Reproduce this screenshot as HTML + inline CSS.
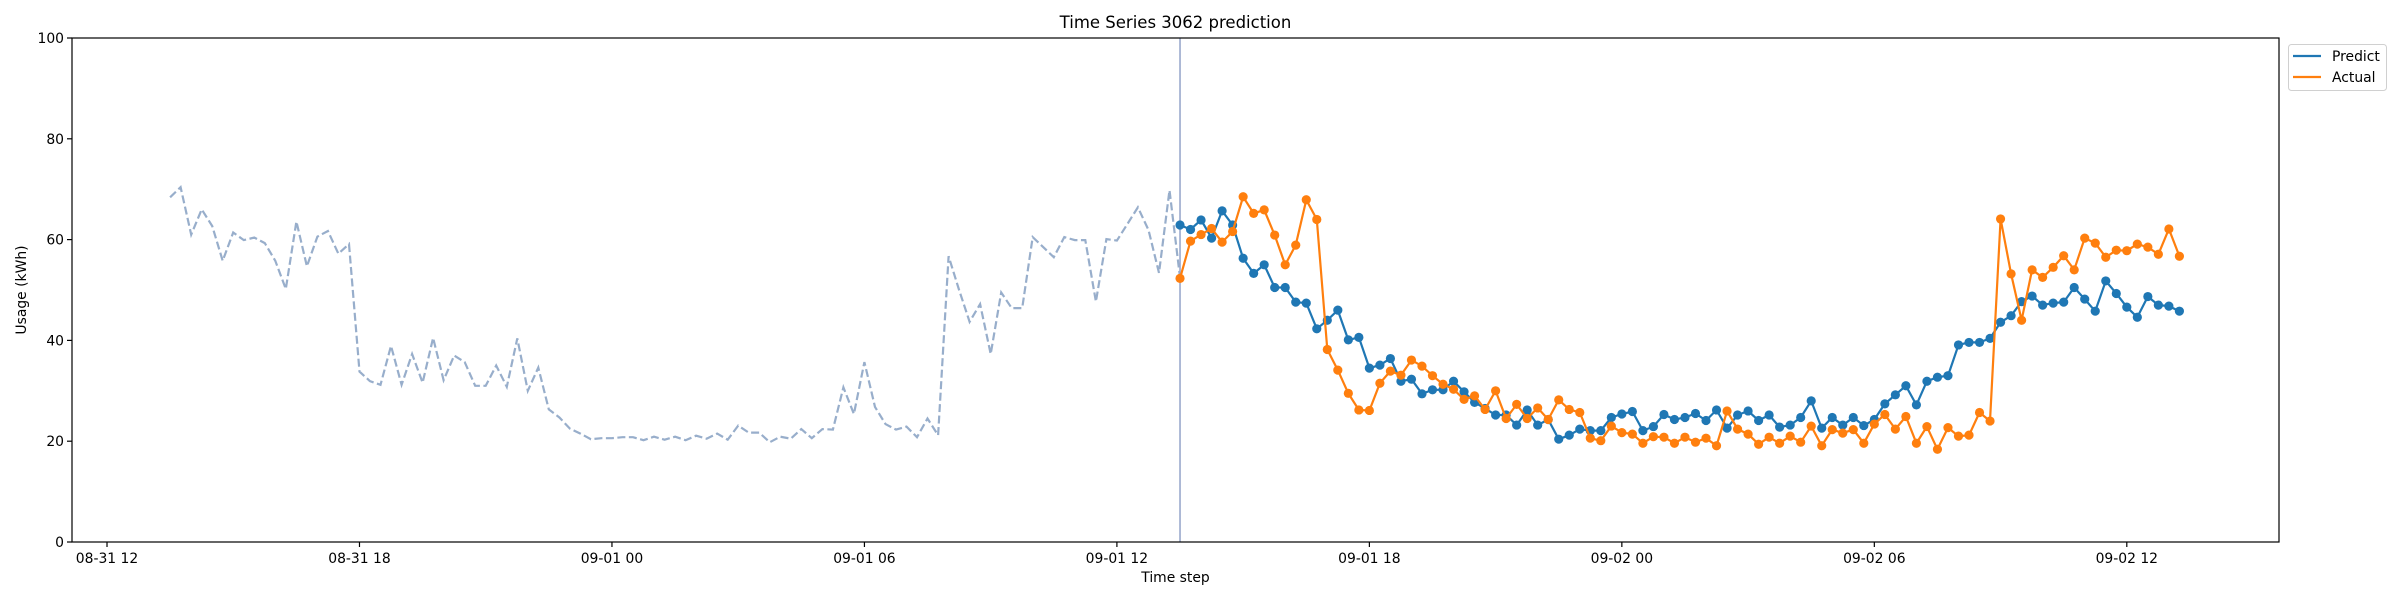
<!DOCTYPE html>
<html><head><meta charset="utf-8"><style>
html,body{margin:0;padding:0;background:#fff}
svg{display:block;font-family:"DejaVu Sans","Liberation Sans",sans-serif}
</style></head><body>
<svg id="chart" width="2400" height="600" viewBox="0 0 2400 600"></svg>
<script>
// hours relative to 08-31 12:00
const histStartHour = 1.5;
const predStartHour = 25.5;
const stepHours = 0.25;
const historyValues = [68.4,70.4,61,66,62.7,55.8,61.4,59.9,60.4,59.3,55.8,50.2,63.6,54.7,60.6,61.7,57.2,59.1,33.8,31.9,31.2,38.9,31.2,37.3,31.6,40.5,32.1,37,35.7,31,31,35,30.8,40.4,30,34.6,26.3,24.7,22.5,21.5,20.4,20.6,20.6,20.8,20.8,20.2,20.9,20.3,20.9,20.2,21.1,20.5,21.5,20.3,23.1,21.7,21.7,19.8,20.9,20.5,22.4,20.6,22.4,22.3,30.7,25.4,35.7,26.8,23.4,22.3,22.9,20.8,24.5,21.2,56.7,50,43.7,47.2,37.3,49.5,46.4,46.4,60.5,58.5,56.5,60.5,59.9,59.9,47.7,60.1,59.8,63.1,66.4,61.9,53.4,69.8,52.5];
const predictValues = [62.9,62.0,63.9,60.3,65.7,62.9,56.3,53.3,55,50.5,50.5,47.6,47.4,42.3,44,46,40.1,40.6,34.5,35.1,36.4,31.9,32.3,29.4,30.2,30.2,31.9,29.8,27.7,26.5,25.2,25.2,23.2,26.2,23.2,24.3,20.4,21.2,22.4,22.1,22.1,24.7,25.4,25.9,22.1,22.9,25.3,24.3,24.7,25.5,24.1,26.2,22.6,25.2,26,24.1,25.2,22.8,23.2,24.7,28,22.6,24.7,23.2,24.7,23.1,24.3,27.4,29.2,31,27.2,31.9,32.7,33,39.1,39.6,39.6,40.4,43.6,44.9,47.7,48.8,47,47.4,47.6,50.5,48.2,45.8,51.8,49.3,46.6,44.6,48.7,47,46.8,45.8];
const actualValues = [52.3,59.7,61.0,62.2,59.5,61.6,68.5,65.2,65.9,60.9,55,58.9,67.9,64,38.2,34.1,29.5,26.2,26.1,31.5,33.9,33.1,36.1,34.9,33,31.3,30.3,28.3,29,26.3,30,24.5,27.3,24.5,26.6,24.3,28.2,26.3,25.7,20.6,20.1,23,21.7,21.4,19.6,20.9,20.8,19.6,20.8,19.8,20.6,19.1,26,22.4,21.4,19.4,20.8,19.6,21,19.8,23,19.1,22.3,21.6,22.3,19.6,23.4,25.3,22.4,24.9,19.6,22.9,18.4,22.7,21,21.2,25.7,24,64.1,53.2,44,54,52.5,54.5,56.8,54,60.3,59.3,56.5,57.9,57.8,59.1,58.5,57.1,62.1,56.7];
const yTicks = [0,20,40,60,80,100];
const xTickHours = [0,6,12,18,24,30,36,42,48];
const xTickLabels = ["08-31 12","08-31 18","09-01 00","09-01 06","09-01 12","09-01 18","09-02 00","09-02 06","09-02 12"];

const L=72,R=2279,T=38,B=542;
const xMin=-0.832, xMax=51.617, yMin=0, yMax=100;
const xs=h=>L+(h-xMin)/(xMax-xMin)*(R-L);
const ys=v=>B-(v-yMin)/(yMax-yMin)*(B-T);
const NS="http://www.w3.org/2000/svg";
const svg=document.getElementById('chart');
function mk(tag,attrs,parent){const e=document.createElementNS(NS,tag);for(const k in attrs)e.setAttribute(k,attrs[k]);(parent||svg).appendChild(e);return e;}

let t=mk('text',{x:(L+R)/2,y:28,'text-anchor':'middle','font-size':'16.5',fill:'#000'});
t.textContent='Time Series 3062 prediction';



const yg=mk('g',{});


yTicks.forEach(v=>{
  mk('line',{x1:L-5,x2:L,y1:ys(v),y2:ys(v),stroke:'#000','stroke-width':1.2},yg);
  const tx=mk('text',{x:L-8,y:ys(v)+5,'text-anchor':'end','font-size':'13.9',fill:'#000'},yg);
  tx.textContent=v;
  
  
});
const xg=mk('g',{});


xTickHours.forEach((h,i)=>{
  mk('line',{x1:xs(h),x2:xs(h),y1:B,y2:B+5,stroke:'#000','stroke-width':1.2},xg);
  const tx=mk('text',{x:xs(h),y:B+21,'text-anchor':'middle','font-size':'13.9',fill:'#000'},xg);
  tx.textContent=xTickLabels[i];
  
  
});
let xl=mk('text',{x:(L+R)/2,y:582,'text-anchor':'middle','font-size':'13.9',fill:'#000'});
xl.textContent='Time step';


let yl=mk('text',{x:0,y:0,'text-anchor':'middle','font-size':'13.9',fill:'#000',transform:`translate(26,${(T+B)/2}) rotate(-90)`});
yl.textContent='Usage (kWh)';



const hp=historyValues.map((v,i)=>xs(histStartHour+i*stepHours).toFixed(1)+','+ys(v).toFixed(1)).join(' ');
let hl=mk('polyline',{points:hp,fill:'none',stroke:'#98aecb','stroke-width':2.2,'stroke-dasharray':'8,3.5'});



let vl=mk('line',{x1:xs(predStartHour),x2:xs(predStartHour),y1:T,y2:B,stroke:'#9aa8cc','stroke-width':1.6});



function series(vals,color,name){
  const g=mk('g',{});
  
  
  const p=vals.map((v,i)=>xs(predStartHour+i*stepHours).toFixed(1)+','+ys(v).toFixed(1)).join(' ');
  mk('polyline',{points:p,fill:'none',stroke:color,'stroke-width':2.2},g);
  vals.forEach((v,i)=>{
    const c=mk('circle',{cx:xs(predStartHour+i*stepHours),cy:ys(v),r:4.6,fill:color},g);
    
    
  });
}
series(predictValues,'#1f77b4','predict');
series(actualValues,'#ff7f0e','actual');

let fr=mk('rect',{x:L,y:T,width:R-L,height:B-T,fill:'none',stroke:'#000','stroke-width':1.2});



const lg=mk('g',{});


mk('rect',{x:2288.5,y:44.5,width:98,height:46,rx:3,fill:'#fff',stroke:'#d0d0d0','stroke-width':1},lg);
[['Predict','#1f77b4',56],['Actual','#ff7f0e',77]].forEach(([n,c,y])=>{
  const e=mk('g',{},lg);
  
  
  mk('line',{x1:2293,x2:2321,y1:y,y2:y,stroke:c,'stroke-width':2.2},e);
  const tx=mk('text',{x:2332,y:y+5,'font-size':'13.9',fill:'#000'},e);
  tx.textContent=n;
});
</script>
</body></html>
